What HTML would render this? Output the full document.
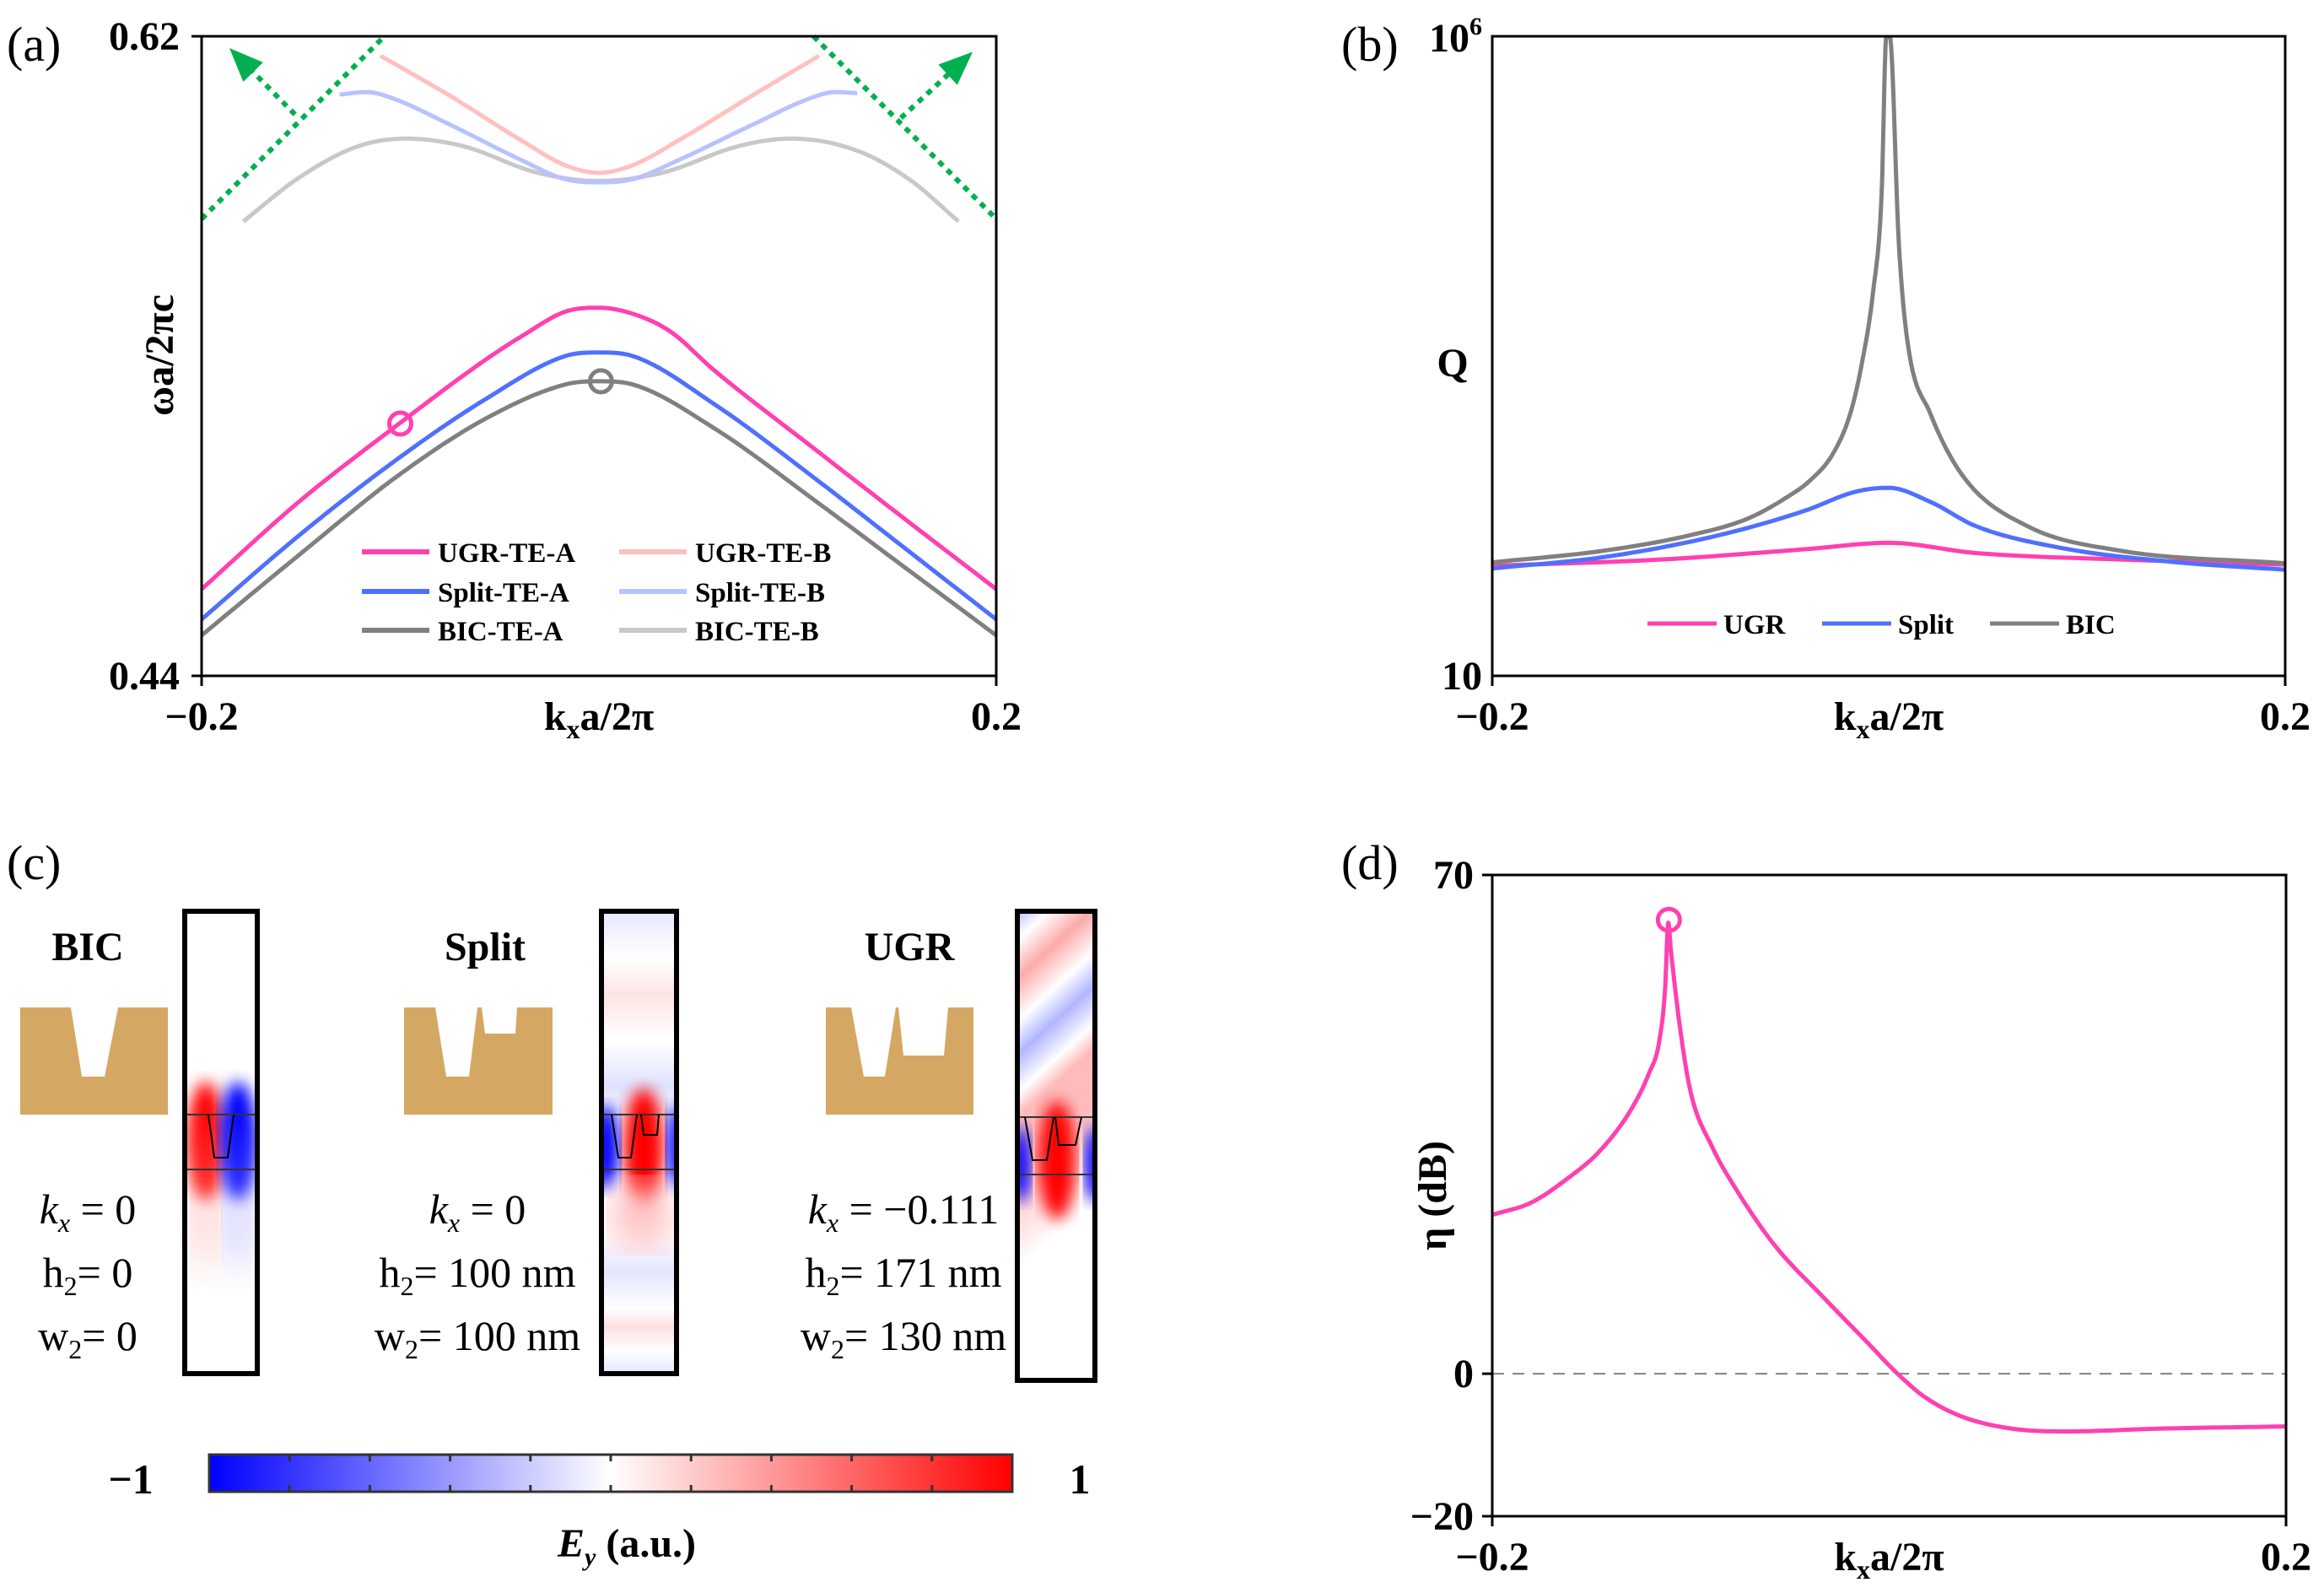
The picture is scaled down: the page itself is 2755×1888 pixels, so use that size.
<!DOCTYPE html>
<html><head><meta charset="utf-8"><style>
html,body{margin:0;padding:0;background:#fff;}
svg{display:block;font-family:"Liberation Serif",serif;}
.tk{font-weight:bold;font-size:48px;}
.lg{font-weight:bold;font-size:33px;}
.pl{font-size:58px;}
.ct{font-size:50px;}
</style></head><body>
<svg id="fig" xmlns="http://www.w3.org/2000/svg" width="2755" height="1888" viewBox="0 0 2755 1888">
<defs>
<linearGradient id="cbar" x1="0" x2="1" y1="0" y2="0">
<stop offset="0" stop-color="#0000ff"/><stop offset="0.5" stop-color="#ffffff"/><stop offset="1" stop-color="#ff0000"/>
</linearGradient>
<filter id="blur8"><feGaussianBlur stdDeviation="9"/></filter>
<filter id="blur20"><feGaussianBlur stdDeviation="22"/></filter>
<clipPath id="clipBIC"><rect x="219" y="1080" width="86" height="548"/></clipPath>
<clipPath id="clipSplit"><rect x="713" y="1080" width="89" height="548"/></clipPath>
<clipPath id="clipUGR"><rect x="1206" y="1080" width="92" height="556"/></clipPath>
<clipPath id="clipA"><rect x="239" y="43" width="942" height="758"/></clipPath>
<clipPath id="clipB"><rect x="1769" y="43" width="940" height="758"/></clipPath>
<clipPath id="clipD"><rect x="1769" y="1037" width="941" height="760"/></clipPath>
<linearGradient id="splitStripes" x1="0" x2="0" y1="0" y2="1">
<stop offset="0" stop-color="#e6e8ff"/><stop offset="0.1" stop-color="#fff"/><stop offset="0.18" stop-color="#fde4e4"/><stop offset="0.28" stop-color="#fff"/><stop offset="0.38" stop-color="#dfe2ff"/><stop offset="0.46" stop-color="#fff"/>
<stop offset="0.7" stop-color="#fff"/><stop offset="0.78" stop-color="#e4e6ff"/><stop offset="0.86" stop-color="#fff"/><stop offset="0.9" stop-color="#fde0e0"/><stop offset="0.95" stop-color="#fff"/><stop offset="1" stop-color="#e4e6ff"/>
</linearGradient>
<linearGradient id="ugrStripes" x1="0" x2="0.15" y1="0" y2="1">
<stop offset="0" stop-color="#b9bfff"/><stop offset="0.06" stop-color="#fff"/><stop offset="0.14" stop-color="#fcaaaa"/><stop offset="0.23" stop-color="#fff"/><stop offset="0.3" stop-color="#b0b6ff"/><stop offset="0.38" stop-color="#fff"/><stop offset="0.43" stop-color="#fbb"/><stop offset="0.55" stop-color="#fbb"/><stop offset="0.75" stop-color="#fff"/><stop offset="1" stop-color="#fff"/>
</linearGradient>
</defs>
<g id="panelA"></g>
<g id="panelB"></g>
<g id="panelC">
<text x="8" y="1042" class="pl">(c)</text>
<text x="104" y="1138" text-anchor="middle" class="tk">BIC</text>
<text x="575" y="1138" text-anchor="middle" class="tk">Split</text>
<text x="1078" y="1138" text-anchor="middle" class="tk">UGR</text>
<path d="M24,1194 H84 L97,1276 H124 L140,1194 H199 V1321 H24 Z" fill="#d4a862"/>
<path d="M479,1194 H516 L529,1276 H556 L566,1194 H571 L575,1225 H611 L613,1194 H655 V1321 H479 Z" fill="#d4a862"/>
<path d="M979,1194 H1009 L1024,1276 H1049 L1062,1194 H1065 L1071,1251 H1119 L1124,1194 H1154 V1321 H979 Z" fill="#d4a862"/>
<g clip-path="url(#clipBIC)">
<ellipse cx="244" cy="1352" rx="22" ry="70" fill="#ff0000" filter="url(#blur8)"/>
<ellipse cx="282" cy="1352" rx="22" ry="70" fill="#0000ff" filter="url(#blur8)"/>
<ellipse cx="244" cy="1420" rx="16" ry="90" fill="#ff9090" opacity="0.5" filter="url(#blur20)"/>
<ellipse cx="282" cy="1420" rx="16" ry="90" fill="#9090ff" opacity="0.5" filter="url(#blur20)"/>
<line x1="219" y1="1321" x2="305" y2="1321" stroke="#333" stroke-width="2"/>
<line x1="219" y1="1386" x2="305" y2="1386" stroke="#333" stroke-width="2"/>
<path d="M247,1321 L254,1372 H270 L277,1321" fill="none" stroke="#000" stroke-width="2"/>
</g>
<g clip-path="url(#clipSplit)">
<rect x="713" y="1080" width="89" height="548" fill="url(#splitStripes)"/>
<ellipse cx="763" cy="1360" rx="24" ry="70" fill="#ff0000" filter="url(#blur8)"/>
<ellipse cx="718" cy="1360" rx="16" ry="50" fill="#0000ff" filter="url(#blur8)"/>
<ellipse cx="800" cy="1360" rx="10" ry="50" fill="#0000ff" filter="url(#blur8)"/>
<ellipse cx="760" cy="1440" rx="35" ry="40" fill="#fbb" filter="url(#blur20)"/>
<line x1="713" y1="1321" x2="802" y2="1321" stroke="#333" stroke-width="2"/>
<line x1="713" y1="1386" x2="802" y2="1386" stroke="#333" stroke-width="2"/>
<path d="M725,1321 L733,1372 H748 L755,1321 M760,1321 L763,1345 H779 L781,1321" fill="none" stroke="#000" stroke-width="2"/>
</g>
<g clip-path="url(#clipUGR)">
<rect x="1206" y="1080" width="92" height="556" fill="url(#ugrStripes)"/>
<ellipse cx="1253" cy="1375" rx="22" ry="70" fill="#ff0000" filter="url(#blur8)"/>
<ellipse cx="1210" cy="1380" rx="12" ry="45" fill="#0000ff" filter="url(#blur8)"/>
<ellipse cx="1298" cy="1380" rx="12" ry="45" fill="#0000ff" filter="url(#blur8)"/>
<line x1="1206" y1="1324" x2="1298" y2="1324" stroke="#333" stroke-width="2"/>
<line x1="1206" y1="1392" x2="1298" y2="1392" stroke="#333" stroke-width="2"/>
<path d="M1215,1324 L1224,1375 H1241 L1249,1324 M1251,1324 L1255,1357 H1275 L1282,1324" fill="none" stroke="#000" stroke-width="2"/>
</g>
<rect x="219" y="1080" width="86" height="548" fill="none" stroke="#000" stroke-width="6"/>
<rect x="713" y="1080" width="89" height="548" fill="none" stroke="#000" stroke-width="6"/>
<rect x="1206" y="1080" width="92" height="556" fill="none" stroke="#000" stroke-width="6"/>
<g class="ct">
<text x="104" y="1450" text-anchor="middle"><tspan font-style="italic">k</tspan><tspan font-style="italic" font-size="32" dy="10">x</tspan><tspan dy="-10"> = 0</tspan></text>
<text x="104" y="1525" text-anchor="middle">h<tspan font-size="32" dy="10">2</tspan><tspan dy="-10">= 0</tspan></text>
<text x="104" y="1600" text-anchor="middle">w<tspan font-size="32" dy="10">2</tspan><tspan dy="-10">= 0</tspan></text>
</g>
<g class="ct">
<text x="566" y="1450" text-anchor="middle"><tspan font-style="italic">k</tspan><tspan font-style="italic" font-size="32" dy="10">x</tspan><tspan dy="-10"> = 0</tspan></text>
<text x="566" y="1525" text-anchor="middle">h<tspan font-size="32" dy="10">2</tspan><tspan dy="-10">= 100 nm</tspan></text>
<text x="566" y="1600" text-anchor="middle">w<tspan font-size="32" dy="10">2</tspan><tspan dy="-10">= 100 nm</tspan></text>
</g>
<g class="ct">
<text x="1071" y="1450" text-anchor="middle"><tspan font-style="italic">k</tspan><tspan font-style="italic" font-size="32" dy="10">x</tspan><tspan dy="-10"> = −0.111</tspan></text>
<text x="1071" y="1525" text-anchor="middle">h<tspan font-size="32" dy="10">2</tspan><tspan dy="-10">= 171 nm</tspan></text>
<text x="1071" y="1600" text-anchor="middle">w<tspan font-size="32" dy="10">2</tspan><tspan dy="-10">= 130 nm</tspan></text>
</g>
<rect x="248" y="1724" width="952" height="44" fill="url(#cbar)" stroke="#333" stroke-width="3"/>
<g id="cbticks"></g>
<text x="155" y="1770" text-anchor="middle" class="ct" font-weight="bold">−1</text>
<text x="1280" y="1770" text-anchor="middle" class="ct" font-weight="bold">1</text>
<text x="743" y="1845" text-anchor="middle" class="tk" font-size="44"><tspan font-style="italic">E</tspan><tspan font-style="italic" font-size="30" dy="10">y</tspan><tspan dy="-10"> (a.u.)</tspan></text>
</g>
<g id="panelD"></g>
</svg>
<script>
// ---------- Panel (a) data ----------
const kUgrA = [-0.2,-0.151,-0.1005,-0.057,-0.0385,-0.0169,0,0.017,0.0357,0.058,0.111,0.149,0.2];
const wUgrA = [0.4644,0.489,0.511,0.529,0.5357,0.5425,0.5436,0.5419,0.537,0.526,0.5028,0.4863,0.4644];
const kSplitA = [-0.2,-0.151,-0.1005,-0.057,-0.017,0,0.017,0.058,0.111,0.149,0.2];
const wSplitA = [0.4559,0.4795,0.5014,0.5179,0.530,0.531,0.530,0.5165,0.4946,0.4781,0.4559];
const kBicA = [-0.2,-0.151,-0.1005,-0.057,-0.017,0,0.017,0.058,0.111,0.149,0.2];
const wBicA = [0.4514,0.474,0.4966,0.5124,0.522,0.5229,0.522,0.5097,0.4884,0.4726,0.4514];
const kUgrB = [-0.1099,-0.076,-0.0385,-0.017,0,0.017,0.0395,0.078,0.1108];
const wUgrB = [0.6145,0.6036,0.5905,0.5837,0.5816,0.5837,0.5905,0.6036,0.6145];
const kSplitB = [-0.1305,-0.117,-0.1056,-0.0756,-0.0385,-0.017,0,0.017,0.0395,0.078,0.108,0.119,0.130];
const wSplitB = [0.6036,0.6043,0.6029,0.5953,0.585,0.5798,0.5789,0.5798,0.585,0.5953,0.6029,0.6043,0.604];
const kBicB = [-0.179,-0.151,-0.121,-0.0966,-0.0685,-0.031,0,0.0319,0.0704,0.0967,0.130,0.1568,0.181];
const wBicB = [0.5679,0.5802,0.5891,0.5912,0.5891,0.5816,0.5793,0.5816,0.5891,0.5912,0.5878,0.5795,0.5679];
const markerA = [[-0.1,0.511],[0.001,0.5229]];
const lightLineL = [[-0.2,0.5686],[-0.108,0.62]];
const lightLineR = [[0.108,0.62],[0.2,0.5686]];
const arrowL = [[-0.153,0.598],[-0.183,0.615]];
const arrowR = [[0.152,0.597],[0.185,0.614]];
const yTicksA = ["0.44","0.62"];
const xTicks = ["−0.2","0.2"];
// ---------- Panel (b) data (log10 Q) ----------
const kBicQ = [-0.2,-0.143,-0.1,-0.071,-0.051,-0.0395,-0.028,-0.0194,-0.0137,-0.0079,-0.0036,-0.0012,0.0005,0.0051,0.0094,0.021,0.038,0.07,0.116,0.2];
const qBic = [1.887,1.98,2.10,2.23,2.40,2.53,2.74,3.05,3.43,4.0,4.76,6.0,6.0,4.38,3.62,3.05,2.55,2.17,1.98,1.88];
const kSplitQ = [-0.2,-0.143,-0.0855,-0.0425,-0.0166,0,0.021,0.044,0.087,0.144,0.2];
const qSplit = [1.84,1.93,2.10,2.29,2.44,2.47,2.36,2.17,2.0,1.89,1.83];
const kUgrQ = [-0.2,-0.114,-0.042,0,0.044,0.116,0.2];
const qUgr = [1.86,1.91,1.99,2.04,1.96,1.91,1.87];
// ---------- Panel (d) data ----------
const kEta = [-0.2,-0.1805,-0.1616,-0.146,-0.130,-0.1208,-0.116,-0.1129,-0.1113,-0.110,-0.105,-0.1,-0.0893,-0.0767,-0.0579,-0.0327,-0.0107,0.0035,0.0176,0.0365,0.0616,0.09,0.137,0.2];
const eta = [22.3,24.0,27.5,31.2,37.1,42.3,46.4,54,63.3,59.5,47.8,39.5,31.9,25.7,18.1,10.6,4.3,0.2,-3.2,-6.0,-7.7,-8.1,-7.7,-7.4];
const markerD = [-0.111,63.7];
const yTicksD = ["−20","0","70"];
const yValsD = [-20,0,70];

const NS="http://www.w3.org/2000/svg";
function mk(tag,parent,attrs){const e=document.createElementNS(NS,tag);for(const k in attrs)e.setAttribute(k,attrs[k]);parent.appendChild(e);return e;}
function monoPath(xs,ys,X,Y){
 const n=xs.length;const d=[],m=new Array(n);
 for(let i=0;i<n-1;i++)d.push((ys[i+1]-ys[i])/(xs[i+1]-xs[i]));
 m[0]=d[0];m[n-1]=d[n-2];
 for(let i=1;i<n-1;i++){m[i]=(d[i-1]*d[i]<=0)?0:(d[i-1]+d[i])/2;}
 for(let i=0;i<n-1;i++){if(d[i]===0){m[i]=0;m[i+1]=0;continue;}const a=m[i]/d[i],b=m[i+1]/d[i],s=a*a+b*b;if(s>9){const t=3/Math.sqrt(s);m[i]=t*a*d[i];m[i+1]=t*b*d[i];}}
 let pts=[];
 for(let i=0;i<n-1;i++){const h=xs[i+1]-xs[i];const N=12;
  for(let j=(i===0?0:1);j<=N;j++){const t=j/N;const h00=2*t*t*t-3*t*t+1,h10=t*t*t-2*t*t+t,h01=-2*t*t*t+3*t*t,h11=t*t*t-t*t;
   const y=h00*ys[i]+h10*h*m[i]+h01*ys[i+1]+h11*h*m[i+1];pts.push([X(xs[i]+t*h),Y(y)]);}}
 return "M"+pts.map(p=>p[0].toFixed(1)+","+p[1].toFixed(1)).join(" L");
}
function lin(d0,d1,r0,r1){return v=>r0+(v-d0)/(d1-d0)*(r1-r0);}

function frame(g,L,T,R,B,name){
 const f=mk('rect',g,{x:L,y:T,width:R-L,height:B-T,fill:'none',stroke:'#000','stroke-width':3});
 
 
}
function xaxis(g,L,R,B){
 const xs=[L,R];
 xTicks.forEach((t,i)=>{const e=mk('text',g,{x:xs[i],y:B+64,'text-anchor':'middle','class':'tk'});e.textContent=t;
  
  
  const tk=mk('line',g,{x1:xs[i],x2:xs[i],y1:B,y2:B+12,stroke:'#000','stroke-width':3});
  
  });
 const e=mk('text',g,{x:(L+R)/2,y:B+64,'text-anchor':'middle','class':'tk'});
 e.innerHTML='k<tspan font-size="32" dy="10">x</tspan><tspan dy="-10">a/2π</tspan>';
 
 
}
function series(g,ks,vs,X,Y,color,w,name){
 const p=mk('path',g,{d:monoPath(ks,vs,X,Y),fill:'none',stroke:color,'stroke-width':w,'stroke-linejoin':'round'});
 
 
}

// ===== Panel A =====
(function(){
 const g=document.getElementById('panelA');const L=239,R=1181,T=43,B=801;
 const X=lin(-0.2,0.2,L,R),Y=lin(0.44,0.62,B,T);
 let t=mk('text',g,{x:8,y:72,'class':'pl'});t.textContent='(a)';
 
 
 const cg=mk('g',g,{'clip-path':'url(#clipA)'});
 
 
 [lightLineL,lightLineR,arrowL,arrowR].forEach((ln,i)=>{
  const l=mk('line',g,{x1:X(ln[0][0]),y1:Y(ln[0][1]),x2:X(ln[1][0]),y2:Y(ln[1][1]),stroke:'#00b050','stroke-width':6,'stroke-dasharray':'7,7'});
  
  
  if(i>=2){const x2=X(ln[1][0]),y2=Y(ln[1][1]),x1=X(ln[0][0]),y1=Y(ln[0][1]);const a=Math.atan2(y2-y1,x2-x1);const s=30;
   const h=mk('polygon',g,{points:[[x2+Math.cos(a)*10,y2+Math.sin(a)*10],[x2-Math.cos(a)*s+Math.sin(a)*s*0.55,y2-Math.sin(a)*s-Math.cos(a)*s*0.55],[x2-Math.cos(a)*s-Math.sin(a)*s*0.55,y2-Math.sin(a)*s+Math.cos(a)*s*0.55]].map(p=>p.join(',')).join(' '),fill:'#00b050'});
   
   }
 });
 series(cg,kBicB,wBicB,X,Y,'#c8c8c8',5,'bic-te-b-line');
 series(cg,kSplitB,wSplitB,X,Y,'#b8c2ff',5,'split-te-b-line');
 series(cg,kUgrB,wUgrB,X,Y,'#ffc0c0',5,'ugr-te-b-line');
 series(cg,kBicA,wBicA,X,Y,'#808080',5,'bic-te-a-line');
 series(cg,kSplitA,wSplitA,X,Y,'#4f70ff',5,'split-te-a-line');
 series(cg,kUgrA,wUgrA,X,Y,'#ff40b0',5,'ugr-te-a-line');
 const mc=['#ff40b0','#808080'];
 markerA.forEach((m,i)=>{const c=mk('ellipse',g,{cx:X(m[0]),cy:Y(m[1]),rx:13,ry:13,fill:'none',stroke:mc[i],'stroke-width':5});
  
  });
 frame(g,L,T,R,B,'plot-frame-a');
 [[0.44,B],[0.62,T]].forEach((v,i)=>{const e=mk('text',g,{x:L-26,y:v[1]+16,'text-anchor':'end','class':'tk'});e.textContent=yTicksA[i];
  
  
  const tk=mk('line',g,{x1:L-12,x2:L,y1:v[1],y2:v[1],stroke:'#000','stroke-width':3});
  
  });
 t=mk('text',g,{x:0,y:0,'text-anchor':'middle','class':'tk',transform:'translate(205,421) rotate(-90)'});t.textContent='ωa/2πc';
 
 
 xaxis(g,L,R,B);
 const leg=[['UGR-TE-A','#ff40b0',429,654],['Split-TE-A','#4f70ff',429,701],['BIC-TE-A','#808080',429,747],['UGR-TE-B','#ffc0c0',734,654],['Split-TE-B','#b8c2ff',734,701],['BIC-TE-B','#c8c8c8',734,747]];
 leg.forEach(l=>{const ln=mk('line',g,{x1:l[2],x2:l[2]+80,y1:l[3],y2:l[3],stroke:l[1],'stroke-width':6});
  
  
  const e=mk('text',g,{x:l[2]+90,y:l[3]+12,'class':'lg'});e.textContent=l[0];
  
  });
})();

// ===== Panel B =====
(function(){
 const g=document.getElementById('panelB');const L=1769,R=2709,T=43,B=801;
 const X=lin(-0.2,0.2,L,R),Y=lin(1,6,B,T);
 let t=mk('text',g,{x:1590,y:72,'class':'pl'});t.textContent='(b)';
 
 
 const cg=mk('g',g,{'clip-path':'url(#clipB)'});
 
 
 series(cg,kUgrQ,qUgr,X,Y,'#ff40b0',5,'ugr-q-line');
 series(cg,kSplitQ,qSplit,X,Y,'#4f70ff',5,'split-q-line');
 series(cg,kBicQ,qBic,X,Y,'#808080',5,'bic-q-line');
 frame(g,L,T,R,B,'plot-frame-b');
 t=mk('text',g,{x:L-12,y:T+18,'text-anchor':'end','class':'tk'});t.innerHTML='10<tspan font-size="30" dy="-20">6</tspan>';
 
 
 t=mk('text',g,{x:L-12,y:B+16,'text-anchor':'end','class':'tk'});t.textContent='10';
 
 
 t=mk('text',g,{x:1722,y:446,'text-anchor':'middle','class':'tk','font-size':'62'});t.textContent='Q';
 
 
 xaxis(g,L,R,B);
 const leg=[['UGR','#ff40b0',1953],['Split','#4f70ff',2160],['BIC','#808080',2359]];
 leg.forEach(l=>{const ln=mk('line',g,{x1:l[2],x2:l[2]+82,y1:739,y2:739,stroke:l[1],'stroke-width':5});
  
  
  const e=mk('text',g,{x:l[2]+90,y:751,'class':'lg'});e.textContent=l[0];
  
  });
})();

// ===== Panel D =====
(function(){
 const g=document.getElementById('panelD');const L=1769,R=2710,T=1037,B=1797;
 const X=lin(-0.2,0.2,L,R),Y=lin(-20,70,B,T);
 let t=mk('text',g,{x:1590,y:1042,'class':'pl'});t.textContent='(d)';
 
 
 const z=mk('line',g,{x1:L,x2:R,y1:Y(0),y2:Y(0),stroke:'#808080','stroke-width':2,'stroke-dasharray':'14,10'});
 
 
 const cg=mk('g',g,{'clip-path':'url(#clipD)'});
 
 
 series(cg,kEta,eta,X,Y,'#ff40b0',5,'eta-line');
 const c=mk('ellipse',g,{cx:X(markerD[0]),cy:Y(markerD[1]),rx:13,ry:13,fill:'none',stroke:'#ff40b0','stroke-width':5});
 
 
 frame(g,L,T,R,B,'plot-frame-d');
 yValsD.forEach((v,i)=>{const e=mk('text',g,{x:L-22,y:Y(v)+16,'text-anchor':'end','class':'tk'});e.textContent=yTicksD[i];
  
  
  const tk=mk('line',g,{x1:L-12,x2:L,y1:Y(v),y2:Y(v),stroke:'#000','stroke-width':3});
  
  });
 t=mk('text',g,{x:0,y:0,'text-anchor':'middle','class':'tk',transform:'translate(1714,1417) rotate(-90)'});t.textContent='η (dB)';
 
 
 xaxis(g,L,R,B);
})();

// colorbar ticks
(function(){const g=document.getElementById('cbticks');
 for(let i=1;i<10;i++){const x=248+952*i/10;
  const a=mk('line',g,{x1:x,x2:x,y1:1724,y2:1732,stroke:'#333','stroke-width':3});
  
  
  const b=mk('line',g,{x1:x,x2:x,y1:1760,y2:1768,stroke:'#333','stroke-width':3});
  
  }})();
</script>
</body></html>
